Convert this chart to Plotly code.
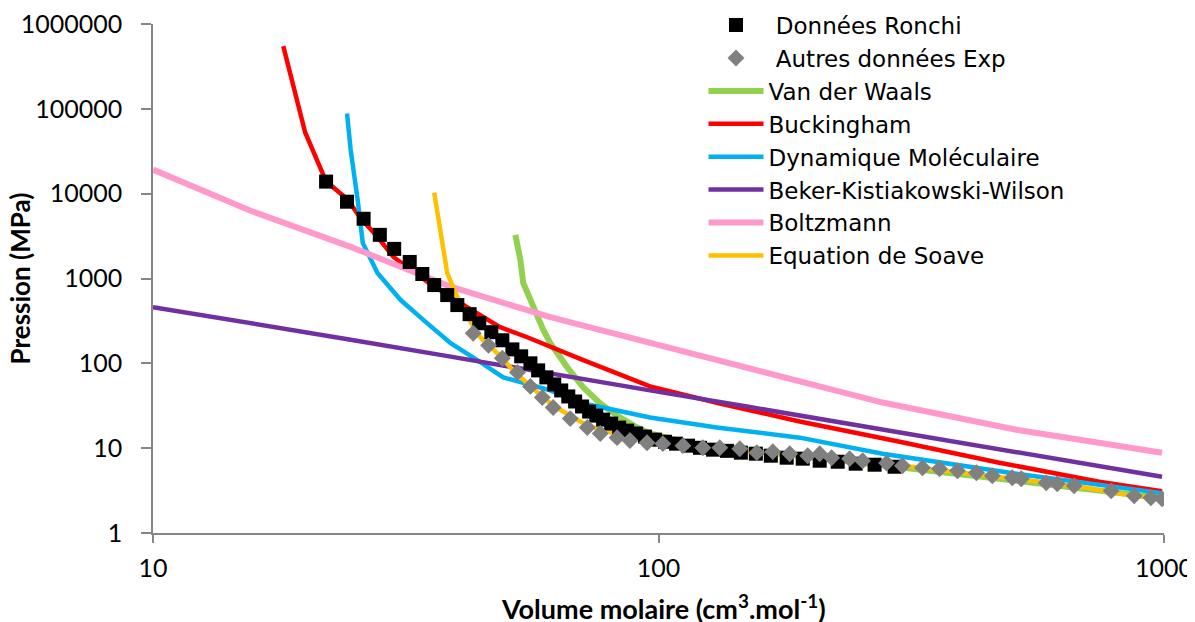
import plotly.graph_objects as go

# ---------------- data ----------------
ronchi_v = [22.0, 24.2, 26.1, 28.1, 30.0, 32.2, 34.1, 36.0, 38.2, 40.0, 42.3, 44.2, 46.7, 49.1,
            51.4, 53.5, 55.8, 57.8, 60.0, 62.2, 64.2, 66.3, 68.4, 70.6, 72.9, 75.3, 77.7, 80.6,
            83.6, 86.7, 90.3, 94.0, 98.4, 103, 108.3, 114.4, 120.8, 128.2, 136.6, 145.5, 155.8,
            166.8, 179.3, 192.9, 208.4, 226.2, 245.5, 267.6, 293.1]
ronchi_p = [13870, 8040, 5060, 3270, 2234, 1567, 1130, 837, 638, 486, 380, 297, 233, 187,
            146, 121, 100, 82.6, 68.3, 56.4, 47.9, 40.7, 35.5, 31.0, 27.0, 24.2, 21.7, 19.5,
            17.5, 16.1, 14.9, 13.7, 12.6, 11.9, 11.3, 10.7, 10.1, 9.6, 9.3, 8.85, 8.61,
            8.15, 7.72, 7.52, 7.11, 6.92, 6.56, 6.38, 6.04]

exp_v = [43.0, 46.1, 49.1, 52.6, 55.8, 58.9, 61.9, 66.9, 72.3, 76.7, 82.8, 87.8, 94.9, 102,
         111.8, 122.4, 132.2, 144.8, 156.5, 168.3, 181.8, 197.3, 208.4, 220, 238.8, 253.4,
         282.6, 303.8, 332.8, 359.6, 390.3, 425.5, 457.5, 501, 522, 584.8, 615, 664, 786,
         873, 942, 991]
exp_p = [226, 163, 115, 78.2, 53.5, 39.6, 30.1, 22.3, 17.5, 14.9, 13.3, 12.3, 11.6, 11.3,
         10.7, 10.1, 10.1, 9.86, 8.85, 9.1, 8.61, 8.15, 8.61, 7.72, 7.52, 7.11,
         6.67, 6.21, 5.88, 5.72, 5.42, 5.13, 4.73, 4.48, 4.36, 3.9, 3.80, 3.60, 3.14,
         2.74, 2.60, 2.53]

vdw_v = [52.1, 53.3, 54.0, 56.5, 59.2, 61.1, 66.0, 71.0, 76.7, 82.8, 90.7, 96.2, 120.8, 190.3, 303.8, 472, 991]
vdw_p = [3270, 1656, 885, 460, 246, 173, 89.7, 52.0, 33.6, 24.2, 17.5, 14.9, 10.7, 8.15, 6.0, 4.36, 2.58]

buck_v = [18.1, 20.0, 22.0, 24.3, 25.7, 27.8, 29.9, 32.3, 34.9, 38.8, 43.8, 48.6, 55.0, 61.1,
          71.0, 82.8, 96.2, 132.2, 190.3, 300, 472.2, 744, 991]
buck_p = [549000, 52700, 14000, 8490, 5200, 3100, 1795, 1262, 909, 604, 391, 267, 203, 155,
          109, 76.2, 53.4, 33.6, 20.6, 11.9, 6.74, 4.02, 3.1]

dm_v = [24.2, 24.6, 25.4, 26.0, 27.8, 30.9, 34.3, 38.8, 43.8, 49.3, 61.1, 71.0, 82.8, 96.2,
        130.4, 190.3, 277.5, 510.4, 991]
dm_p = [88000, 33200, 8490, 2630, 1160, 557, 323, 173, 109, 68.3, 47.9, 33.6, 27.8, 23.0,
        17.5, 13.3, 8.61, 4.99, 2.95]

bkw_v = [10, 15.6, 24.6, 38.8, 61.1, 96.2, 151.6, 277.5, 510.4, 991]
bkw_p = [460, 300, 190, 120, 75, 48, 30.5, 16.6, 9.0, 4.6]

boltz_v = [10, 15.6, 24.6, 38.8, 61.1, 96.2, 151.6, 277.5, 510.4, 991]
boltz_p = [19200, 6290, 2360, 800, 350, 175, 90, 34.5, 16.5, 8.85]

soave_v = [36.0, 37.0, 38.2, 40.0, 41.9, 44.4, 48.0, 51.6, 55.8, 61.9, 72.3, 87.8, 120.8,
           190.3, 303.8, 549, 702, 865, 991]
soave_p = [10300, 3460, 1160, 604, 350, 203, 131, 82.6, 53.5, 31.8, 18.4, 13.3, 10.7,
           8.15, 6.21, 4.12, 3.41, 2.74, 2.53]

y_ticks = [1, 10, 100, 1000, 10000, 100000, 1000000]
y_tick_labels = ["1", "10", "100", "1000", "10000", "100000", "1000000"]
x_ticks = [10, 100, 1000]
x_tick_labels = ["10", "100", "1000"]

x_title = "Volume molaire (cm<sup>3</sup>.mol<sup>-1</sup>)"
y_title = "Pression (MPa)"

FONT = "Lato"
LEG_FONT = "DejaVu Sans"
AXIS_COLOR = "#868686"

fig = go.Figure()

lines = [
    ("Van der Waals", vdw_v, vdw_p, "#92D050", 6, 3),
    ("Buckingham", buck_v, buck_p, "#FF0000", 4.5, 4),
    ("Dynamique Moléculaire", dm_v, dm_p, "#00B0F0", 4.5, 5),
    ("Beker-Kistiakowski-Wilson", bkw_v, bkw_p, "#7030A0", 4.5, 6),
    ("Boltzmann", boltz_v, boltz_p, "#FF99CC", 6, 7),
    ("Equation de Soave", soave_v, soave_p, "#FFC000", 4.5, 8),
]
for name, xv, yv, col, w, rank in lines:
    fig.add_trace(go.Scatter(x=xv, y=yv, mode="lines", name=name,
                             line=dict(color=col, width=w), legendrank=rank))

fig.add_trace(go.Scatter(x=ronchi_v, y=ronchi_p, mode="markers", name="\u00a0Données Ronchi",
                         marker=dict(symbol="square", size=14, color="#000000"), legendrank=1))
fig.add_trace(go.Scatter(x=exp_v, y=exp_p, mode="markers", name="\u00a0Autres données Exp",
                         marker=dict(symbol="diamond", size=13, color="#808080"), legendrank=2))

fig.update_layout(
    width=1187, height=614,
    paper_bgcolor="white", plot_bgcolor="white",
    margin=dict(l=145, r=31, t=16, b=89, autoexpand=False),
    font=dict(family=FONT, size=25, color="#000000"),
    showlegend=True,
    legend=dict(x=0.5445, y=1.040, xref="paper", yref="paper",
                xanchor="left", yanchor="top",
                bgcolor="rgba(0,0,0,0)", borderwidth=0, itemwidth=55,
                font=dict(family=LEG_FONT, size=23, color="#000000")),
    xaxis=dict(type="log", range=[1, 3], showgrid=False, zeroline=False, automargin=False,
               showline=True, linecolor=AXIS_COLOR, linewidth=1.5,
               ticks="outside", ticklen=8, tickcolor=AXIS_COLOR, tickwidth=1.5,
               ticklabelstandoff=4, ticklabeloverflow="allow",
               tickvals=x_ticks, ticktext=x_tick_labels,
               tickfont=dict(family=FONT, size=25, color="#000000")),
    yaxis=dict(type="log", range=[0, 6], showgrid=False, zeroline=False, automargin=False,
               showline=True, linecolor=AXIS_COLOR, linewidth=1.5,
               ticks="outside", ticklen=10, tickcolor=AXIS_COLOR, tickwidth=1.5,
               ticklabelstandoff=14, ticklabeloverflow="allow",
               tickvals=y_ticks, ticktext=y_tick_labels,
               tickfont=dict(family=FONT, size=25, color="#000000")),
    annotations=[
        dict(text=x_title, xref="paper", yref="paper", x=0.505, y=-0.146,
             xanchor="center", yanchor="middle", showarrow=False,
             font=dict(family=FONT, size=27, color="#000000", weight="bold")),
        dict(text=y_title, xref="paper", yref="paper", x=-0.1316, y=0.5,
             xanchor="center", yanchor="middle", showarrow=False, textangle=-90,
             font=dict(family=FONT, size=26, color="#000000", weight="bold")),
    ],
)

fig.write_html("out.html")
